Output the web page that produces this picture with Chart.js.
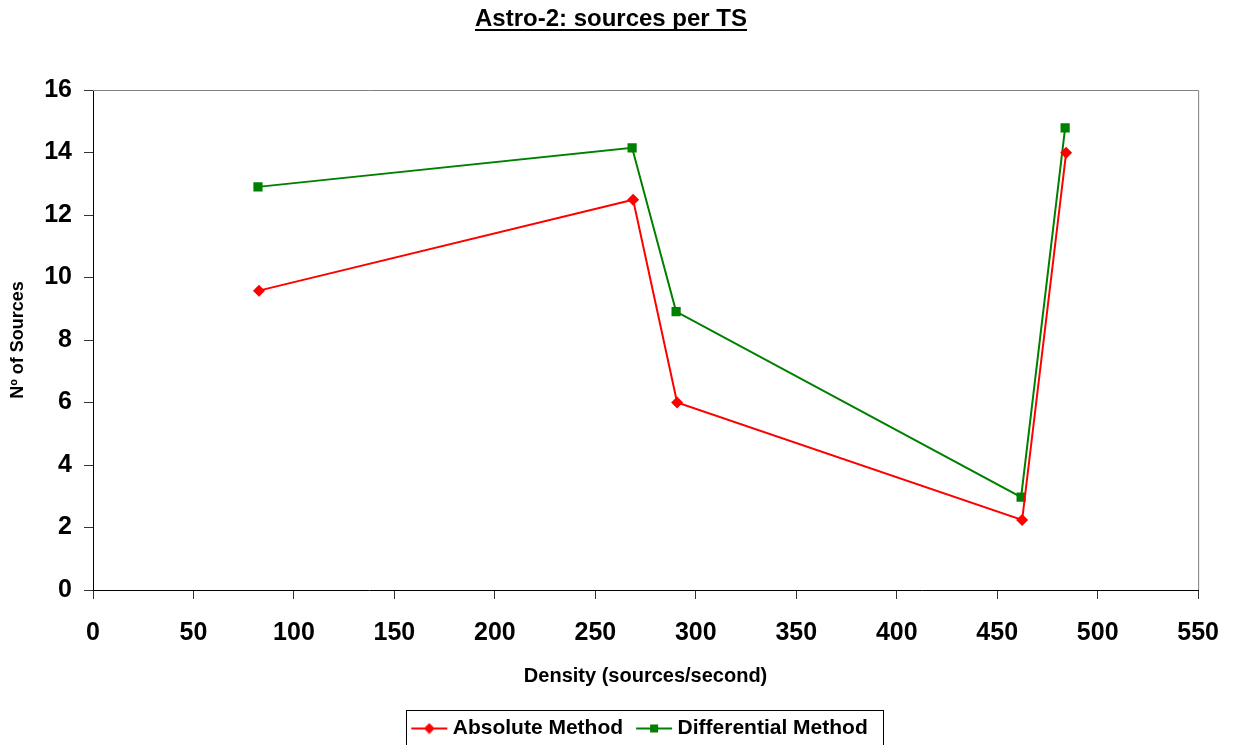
<!DOCTYPE html>
<html>
<head>
<meta charset="utf-8">
<script src="https://cdn.jsdelivr.net/npm/chart.js@4"></script>
<style>
  html, body { margin: 0; padding: 0; background: #fff; }
  #wrap { width: 1234px; height: 745px; }
</style>
</head>
<body>
<div id="wrap"><canvas id="chart" width="1234" height="745"></canvas></div>
<script>
// data
const chartTitle = 'Astro-2: sources per TS';
const xTitle = 'Density (sources/second)';
const yTitle = 'Nº of Sources';

const absoluteX = [82.6, 268.8, 290.7, 462.4, 484.3];
const absoluteY = [9.58, 12.49, 6.0, 2.24, 13.99];

const differentialX = [82.1, 268.3, 290.2, 461.9, 483.8];
const differentialY = [12.9, 14.15, 8.91, 2.97, 14.79];

const seriesNames = ['Absolute Method', 'Differential Method'];
const seriesColors = ['#ff0000', '#008000'];

// pair x and y values for the scatter datasets
function toPoints(xs, ys) {
    return xs.map((x, i) => ({ x: x, y: ys[i] }));
}

// small legend picture: a line with the marker in the middle
// canvas is 60 wide, drawn centred on a 36px legend box
function legendIcon(color, shape) {
    const c = document.createElement('canvas');
    c.width = 60;
    c.height = 12;
    const g = c.getContext('2d');
    g.strokeStyle = color;
    g.lineWidth = 2;
    g.beginPath();
    g.moveTo(17, 6);
    g.lineTo(53, 6);
    g.stroke();
    g.fillStyle = color;
    g.beginPath();
    if (shape === 'diamond') {
        g.moveTo(35, 0.5);
        g.lineTo(40.5, 6);
        g.lineTo(35, 11.5);
        g.lineTo(29.5, 6);
    } else {
        g.rect(31, 2, 8, 8);
    }
    g.closePath();
    g.fill();
    return c;
}
const icons = [legendIcon(seriesColors[0], 'diamond'), legendIcon(seriesColors[1], 'square')];

// title with underline, gray frame round the plot, box round the legend
const extrasPlugin = {
    id: 'extras',
    afterLayout(chart) {
        // move the legend to where it sits in the picture
        const lg = chart.legend;
        const shift = 637 - (lg.left + lg.right) / 2;
        lg.left += shift;
        lg.right += shift;
        lg.top += 4;
        lg.bottom += 4;
    },
    afterDraw(chart) {
        const ctx = chart.ctx;
        const area = chart.chartArea;
        ctx.save();

        // plot frame (top and right are gray)
        ctx.strokeStyle = '#808080';
        ctx.lineWidth = 1;
        ctx.beginPath();
        ctx.moveTo(area.left, area.top + 0.5);
        ctx.lineTo(area.right + 0.5, area.top + 0.5);
        ctx.lineTo(area.right + 0.5, area.bottom);
        ctx.stroke();

        // title
        ctx.font = 'bold 24px "Liberation Sans"';
        ctx.fillStyle = '#000';
        ctx.textAlign = 'center';
        ctx.textBaseline = 'alphabetic';
        const cx = 611;
        ctx.fillText(chartTitle, cx, 26);
        const w = ctx.measureText(chartTitle).width;
        ctx.strokeStyle = '#000';
        ctx.lineWidth = 2;
        ctx.beginPath();
        ctx.moveTo(cx - w / 2, 30);
        ctx.lineTo(cx + w / 2, 30);
        ctx.stroke();

        // legend frame
        const boxes = chart.legend.legendHitBoxes;
        if (boxes && boxes.length) {
            const left = Math.min(...boxes.map(b => b.left));
            const right = Math.max(...boxes.map(b => b.left + b.width)) + 16;
            const top = chart.legend.top;
            ctx.strokeStyle = '#000';
            ctx.lineWidth = 1;
            ctx.strokeRect(Math.round(left) + 0.5, Math.round(top) + 0.5, Math.round(right - left), 40);
        }
        ctx.restore();
    }
};

const ctx = document.getElementById('chart');

const displayedChart = new Chart(ctx, {
    type: 'scatter',
    data: {
        datasets: [{
            label: seriesNames[0],
            data: toPoints(absoluteX, absoluteY),
            showLine: true,
            borderColor: seriesColors[0],
            backgroundColor: seriesColors[0],
            borderWidth: 2,
            pointStyle: 'rectRot',
            pointRadius: 6,
            pointBorderWidth: 0
        }, {
            label: seriesNames[1],
            data: toPoints(differentialX, differentialY),
            showLine: true,
            borderColor: seriesColors[1],
            backgroundColor: seriesColors[1],
            borderWidth: 2,
            pointStyle: 'rect',
            pointRadius: 6.5,
            pointBorderWidth: 0
        }]
    },
    options: {
        responsive: false,
        animation: false,
        layout: { padding: { left: 0, right: 30, top: 90, bottom: 0 } },
        plugins: {
            title: { display: false },
            legend: {
                position: 'bottom',
                labels: {
                    color: '#000',
                    font: { family: 'Liberation Sans', size: 21, weight: 'bold' },
                    usePointStyle: true,
                    boxHeight: 12,
                    pointStyleWidth: 36,
                    padding: 8,
                    generateLabels: chart => chart.data.datasets.map((ds, i) => ({
                        text: ds.label,
                        fillStyle: ds.backgroundColor,
                        strokeStyle: ds.borderColor,
                        pointStyle: icons[i],
                        lineWidth: 0,
                        hidden: false,
                        datasetIndex: i
                    }))
                }
            },
            tooltip: { enabled: false }
        },
        scales: {
            x: {
                type: 'linear',
                min: 0,
                max: 550,
                afterFit: s => { s.height = 116; },
                ticks: {
                    stepSize: 50,
                    color: '#000',
                    padding: 15,
                    font: { family: 'Liberation Sans', size: 25, weight: 'bold', lineHeight: 1.5 }
                },
                grid: { drawOnChartArea: false, tickLength: 9, color: '#333' },
                border: { color: '#000', width: 1 },
                title: {
                    display: true,
                    text: xTitle,
                    color: '#000',
                    font: { family: 'Liberation Sans', size: 20, weight: 'bold' },
                    padding: { top: 4, bottom: 18 }
                }
            },
            y: {
                type: 'linear',
                min: 0,
                max: 16,
                afterFit: s => { s.width = 93; },
                ticks: {
                    stepSize: 2,
                    color: '#000',
                    padding: 12,
                    font: { family: 'Liberation Sans', size: 25, weight: 'bold' }
                },
                grid: { drawOnChartArea: false, tickLength: 9, color: '#333' },
                border: { color: '#000', width: 1 },
                title: {
                    display: true,
                    text: yTitle,
                    color: '#000',
                    font: { family: 'Liberation Sans', size: 18, weight: 'bold' },
                    padding: { top: 7, bottom: 4 }
                }
            }
        }
    },
    plugins: [extrasPlugin]
});
</script>
</body>
</html>
